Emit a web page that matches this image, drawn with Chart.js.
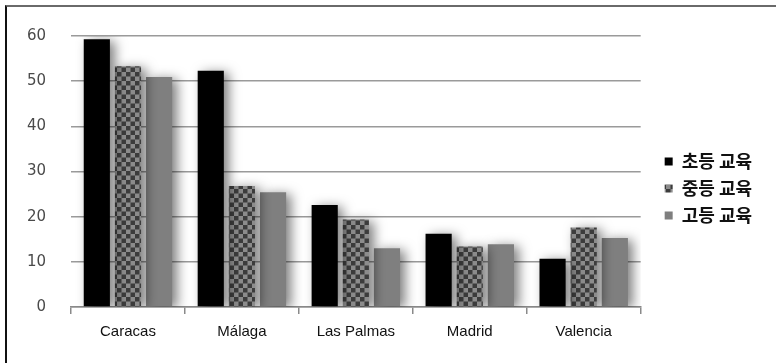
<!DOCTYPE html>
<html>
<head>
<meta charset="utf-8">
<script src="https://cdn.jsdelivr.net/npm/chart.js@4/dist/chart.umd.min.js"></script>
<style>
    html, body { margin: 0; padding: 0; background: #fff; }
    #wrap { position: relative; width: 776px; height: 363px; }
    #chart { position: absolute; left: 0; top: 0; }
    #frame {
        position: absolute; left: 5px; top: 5px; right: 0; bottom: 0;
        border-top: 2px solid #6a6a6a; border-left: 2px solid #111;
        pointer-events: none;
    }
</style>
</head>
<body>
<div id="wrap">
    <canvas id="chart" width="776" height="363"></canvas>
    <div id="frame"></div>
</div>
<script>
const CITIES = ["Caracas", "Málaga", "Las Palmas", "Madrid", "Valencia"];
const SERIES_NAMES = ["초등 교육", "중등 교육", "고등 교육"];
const PRIMARY = [59.3, 52.3, 22.6, 16.2, 10.7];
const SECONDARY = [53.3, 26.8, 19.4, 13.4, 17.6];
const TERTIARY = [50.9, 25.4, 13.0, 13.9, 15.3];
const Y_TICKS = [0, 10, 20, 30, 40, 50, 60];

const COLORS = {
    black: "#000000",
    gray: "#7f7f7f",
    checkDark: "#3c3c3c",
    checkLight: "#8c8c8c",
    grid: "#9a9a9a",
    axis: "#8a8a8a",
    text: "#111111",
    tick: "#4a4a4a",
};

// legend sits a bit right of the plot and above centre
const LEGEND_SHIFT = { x: 15, y: -11 };

function checkerPattern(ctx) {
    const c = document.createElement("canvas");
    c.width = 9;
    c.height = 9;
    const p = c.getContext("2d");
    p.fillStyle = COLORS.checkLight;
    p.fillRect(0, 0, 9, 9);
    p.fillStyle = COLORS.checkDark;
    p.fillRect(0, 0, 4.5, 4.5);
    p.fillRect(4.5, 4.5, 4.5, 4.5);
    return ctx.createPattern(c, "repeat");
}

// soft drop shadow behind the bars
const barShadow = {
    id: "barShadow",
    beforeDatasetsDraw(chart) {
        const ctx = chart.ctx;
        ctx.save();
        ctx.shadowColor = "rgba(0, 0, 0, 0.5)";
        ctx.shadowBlur = 12;
        ctx.shadowOffsetX = 5;
        ctx.shadowOffsetY = 2;
    },
    afterDatasetsDraw(chart) {
        chart.ctx.restore();
    },
};

const legendNudge = {
    id: "legendNudge",
    afterLayout(chart) {
        const lg = chart.legend;
        if (!lg) return;
        lg.left += LEGEND_SHIFT.x;
        lg.right += LEGEND_SHIFT.x;
        lg.top += LEGEND_SHIFT.y;
        lg.bottom += LEGEND_SHIFT.y;
    },
};

const canvas = document.getElementById("chart");
const ctx = canvas.getContext("2d");
const checker = checkerPattern(ctx);

new Chart(canvas, {
    type: "bar",
    data: {
        labels: CITIES,
        datasets: [
            { label: SERIES_NAMES[0], data: PRIMARY, backgroundColor: COLORS.black },
            { label: SERIES_NAMES[1], data: SECONDARY, backgroundColor: checker },
            { label: SERIES_NAMES[2], data: TERTIARY, backgroundColor: COLORS.gray },
        ],
    },
    options: {
        responsive: false,
        animation: false,
        devicePixelRatio: 1,
        categoryPercentage: 0.82,
        barPercentage: 0.84,
        layout: { padding: { top: 36, right: 29, bottom: 0, left: 0 } },
        plugins: {
            tooltip: { enabled: false },
            legend: {
                position: "right",
                labels: {
                    boxWidth: 8,
                    boxHeight: 8,
                    padding: 9,
                    color: COLORS.text,
                    font: { family: "'Noto Sans CJK KR', sans-serif", size: 18, weight: "bold" },
                },
            },
        },
        scales: {
            x: {
                afterFit: (s) => { s.height = 56; },
                grid: {
                    offset: true,
                    drawOnChartArea: false,
                    tickLength: 7,
                    color: COLORS.axis,
                    lineWidth: 1.5,
                },
                border: { display: true, color: COLORS.axis, width: 1.5 },
                ticks: {
                    color: COLORS.text,
                    padding: 9,
                    font: { family: "'Liberation Sans', Arial, sans-serif", size: 15 },
                },
            },
            y: {
                min: 0,
                max: 60,
                afterFit: (s) => { s.width = 71; },
                afterBuildTicks: (s) => { s.ticks = Y_TICKS.map((v) => ({ value: v })); },
                grid: { color: COLORS.grid, lineWidth: 1.5, drawTicks: false },
                border: { display: false },
                ticks: {
                    color: COLORS.tick,
                    padding: 25,
                    font: { family: "'DejaVu Sans', sans-serif", size: 15 },
                },
            },
        },
    },
    plugins: [barShadow, legendNudge],
});
</script>
</body>
</html>
